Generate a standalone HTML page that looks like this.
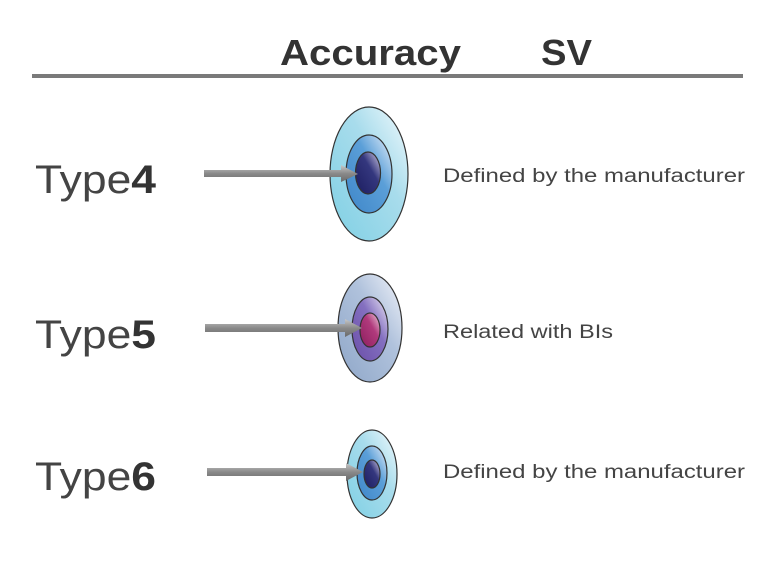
<!DOCTYPE html>
<html><head><style>body{margin:0;background:#fff}</style></head><body>
<svg width="768" height="576" xmlns="http://www.w3.org/2000/svg" font-family="Liberation Sans, sans-serif">
<defs>
<linearGradient id="cy" x1="0" y1="1" x2="1" y2="0"><stop offset="0" stop-color="#7fd0e4"/><stop offset="0.6" stop-color="#a8dcec"/><stop offset="1" stop-color="#f2fafd"/></linearGradient>
<linearGradient id="bl" x1="0" y1="1" x2="1" y2="0"><stop offset="0" stop-color="#3e86c8"/><stop offset="0.6" stop-color="#5b9fd8"/><stop offset="1" stop-color="#e8f0fa"/></linearGradient>
<linearGradient id="nv" x1="0" y1="1" x2="1" y2="0"><stop offset="0" stop-color="#1c1d60"/><stop offset="0.6" stop-color="#34377e"/><stop offset="1" stop-color="#d8d0e8"/></linearGradient>
<linearGradient id="gy" x1="0" y1="1" x2="1" y2="0"><stop offset="0" stop-color="#8ea6c8"/><stop offset="0.6" stop-color="#b0c2dc"/><stop offset="1" stop-color="#f2f4fa"/></linearGradient>
<linearGradient id="pu" x1="0" y1="1" x2="1" y2="0"><stop offset="0" stop-color="#6a4ea8"/><stop offset="0.6" stop-color="#8470c0"/><stop offset="1" stop-color="#eeeaf6"/></linearGradient>
<linearGradient id="mg" x1="0" y1="1" x2="1" y2="0"><stop offset="0" stop-color="#8c1e5e"/><stop offset="0.6" stop-color="#b03a7c"/><stop offset="1" stop-color="#f0d0e0"/></linearGradient>
<linearGradient id="ar" x1="0" y1="0" x2="0" y2="1"><stop offset="0" stop-color="#c8c8c8"/><stop offset="0.5" stop-color="#8a8a8a"/><stop offset="1" stop-color="#6a6a6a"/></linearGradient>
</defs>
<text x="280" y="65" font-size="36" font-weight="bold" fill="#333" textLength="181" lengthAdjust="spacingAndGlyphs">Accuracy</text>
<text x="541" y="65" font-size="36" font-weight="bold" fill="#333" textLength="51" lengthAdjust="spacingAndGlyphs">SV</text>
<rect x="32" y="74" width="711" height="4" fill="#7a7a7a"/>

<g stroke="#333" stroke-width="1.2">
<ellipse cx="369" cy="174" rx="39" ry="67" fill="url(#cy)"/>
<ellipse cx="369" cy="174" rx="23" ry="39" fill="url(#bl)"/>
<ellipse cx="368" cy="173" rx="12.5" ry="21" fill="url(#nv)"/>
<ellipse cx="370" cy="328" rx="32" ry="54" fill="url(#gy)"/>
<ellipse cx="370" cy="329" rx="18" ry="32" fill="url(#pu)"/>
<ellipse cx="370" cy="330" rx="10" ry="17" fill="url(#mg)"/>
<ellipse cx="372" cy="474" rx="25" ry="44" fill="url(#cy)"/>
<ellipse cx="372" cy="473" rx="15" ry="27" fill="url(#bl)"/>
<ellipse cx="372" cy="474" rx="8" ry="14" fill="url(#nv)"/>
</g>
<g fill="url(#ar)">
<polygon points="204,170 341,170 341,165 358,174 341,182 341,177 204,177"/>
<polygon points="205,324 345,324 345,319 362,328 345,337 345,332 205,332"/>
<polygon points="207,468 346,468 346,463 363,472 346,481 346,476 207,476"/>
</g>
<g font-size="40" fill="#444">
<text x="35" y="193" textLength="121" lengthAdjust="spacingAndGlyphs">Type<tspan font-weight="bold" fill="#333">4</tspan></text>
<text x="35" y="348" textLength="121" lengthAdjust="spacingAndGlyphs">Type<tspan font-weight="bold" fill="#333">5</tspan></text>
<text x="35" y="490" textLength="121" lengthAdjust="spacingAndGlyphs">Type<tspan font-weight="bold" fill="#333">6</tspan></text>
</g>
<g font-size="19" fill="#444">
<text x="443" y="182" textLength="302" lengthAdjust="spacingAndGlyphs">Defined by the manufacturer</text>
<text x="443" y="338" textLength="170" lengthAdjust="spacingAndGlyphs">Related with BIs</text>
<text x="443" y="478" textLength="302" lengthAdjust="spacingAndGlyphs">Defined by the manufacturer</text>
</g>
</svg>
</body></html>
